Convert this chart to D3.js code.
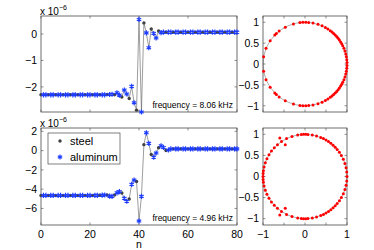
<!doctype html>
<html lang="en">
  <head>
    <meta charset="UTF-8" />
    <title>Layer displacement and eigenvalues</title>
    <script src="https://d3js.org/d3.v7.min.js"></script>
    <style>
      body {
        margin: 0;
        padding: 0;
        background: #fff;
      }
      svg {
        display: block;
        font-family: 'Liberation Sans', Arial, sans-serif;
      }
      .tick-label {
        font-size: 10.5px;
        fill: #000;
      }
      .freq-label {
        font-size: 8.5px;
        fill: #000;
      }
      .legend-label {
        font-size: 11px;
        fill: #000;
      }
    </style>
  </head>
  <body>
    <div id="chart"></div>

    <script>
      // layer index axis
      const xTicks = [0, 20, 40, 60, 80]
      const layerPattern = ['steel', 'aluminum', 'aluminum']

      // displacement (x 10^-6) per layer, f = 8.06 kHz
      const valuesTop = [
        -2.3, -2.3, -2.3, -2.3, -2.3, -2.3, -2.3, -2.3, -2.3, -2.3,
        -2.3, -2.3, -2.3, -2.3, -2.3, -2.3, -2.3, -2.3, -2.3, -2.3,
        -2.3, -2.3, -2.3, -2.3, -2.3, -2.3, -2.3, -2.29, -2.29, -2.28,
        -2.3, -2.22, -2.31, -2.38, -2.12, -2.27, -2.44, -1.98, -2.6, -2.88,
        0.55, -2.95, 0.42, 0.04, -0.52, 0.19, 0.02, -0.15, 0.11, 0.05,
        0.07, 0.07, 0.07, 0.07, 0.07, 0.07, 0.07, 0.07, 0.07, 0.07,
        0.07, 0.07, 0.07, 0.07, 0.07, 0.07, 0.07, 0.07, 0.07, 0.07,
        0.07, 0.07, 0.07, 0.07, 0.07, 0.07, 0.07, 0.07, 0.07, 0.07, 0.07,
      ]

      // displacement (x 10^-6) per layer, f = 4.96 kHz
      const valuesBottom = [
        -4.65, -4.65, -4.65, -4.65, -4.65, -4.65, -4.65, -4.65, -4.65, -4.65,
        -4.65, -4.65, -4.65, -4.65, -4.65, -4.65, -4.65, -4.65, -4.65, -4.65,
        -4.65, -4.65, -4.64, -4.64, -4.63, -4.62, -4.6, -4.6, -4.72, -4.75,
        -4.6, -4.38, -4.25, -4.4, -4.95, -5.25, -5.02, -3.5, -3.05, -3.2,
        -7.3, -4.75, 0.62, 1.85, 0.75, -0.4, -0.68, -0.25, 0.3, 0.5,
        0.32, 0.02, 0.06, 0.18, 0.18, 0.18, 0.18, 0.18, 0.18, 0.18,
        0.18, 0.18, 0.18, 0.18, 0.18, 0.18, 0.18, 0.18, 0.18, 0.18,
        0.18, 0.18, 0.18, 0.18, 0.18, 0.18, 0.18, 0.18, 0.18, 0.18, 0.18,
      ]

      const yTicksTop = [-2, -1, 0]
      const yTicksBottom = [-6, -4, -2, 0, 2]
      const freqTop = 'frequency = 8.06 kHz'
      const freqBottom = 'frequency = 4.96 kHz'

      // eigenvalue angles (degrees) on the unit circle
      const anglesTop = [
        2, 6, 10, 14, 18, 22, 26, 29, 32, 35, 38, 41, 44, 47, 50, 53, 57, 61, 66, 72, 79, 85, 89,
        93, 97, 106, 118, 128, 133, 136, 146, 158, 170,
        -2, -6, -10, -14, -18, -22, -26, -29, -32, -35, -38, -41, -44, -47, -50, -53, -57, -61,
        -66, -72, -79, -85, -89, -93, -97, -106, -118, -128, -133, -136, -146, -158, -170,
      ]
      const anglesBottom = [
        0, 6, 12, 18, 24, 30, 35, 40, 44, 48, 52, 56, 60, 64, 68, 74, 80, 86, 89, 92, 95, 100,
        108, 116, 124, 131, 137, 143, 149, 155, 161, 167, 172, 176, 180,
        -6, -12, -18, -24, -30, -35, -40, -44, -48, -52, -56, -60, -64, -68, -74, -80, -86, -89,
        -92, -95, -100, -108, -116, -124, -131, -137, -143, -149, -155, -161, -167, -172, -176,
      ]
      // the few eigenvalues off the circle (re, im)
      const offCircleBottom = [
        [-0.6, 0.91],
        [-0.47, 0.75],
        [-0.6, -0.91],
        [-0.47, -0.75],
      ]
      const circleTicks = [-1, -0.5, 0, 0.5, 1]

      const W = 374
      const H = 250
      const svg = d3.select('#chart').append('svg').attr('width', W).attr('height', H)

      const frameColor = '#4a4a4a'
      const steelColor = '#404040'
      const aluColor = '#1f3dff'

      const left = { x0: 41, x1: 237 }
      const right = { x0: 263, x1: 347 }
      const rows = [
        { y0: 16, y1: 112 },
        { y0: 128, y1: 225 },
      ]

      function frame(g, x0, x1, y0, y1) {
        g.append('rect')
          .attr('x', x0)
          .attr('y', y0)
          .attr('width', x1 - x0)
          .attr('height', y1 - y0)
          .attr('fill', 'none')
          .attr('stroke', frameColor)
          .attr('stroke-width', 0.8)
      }

      function ticks(g, x, y, xt, yt, xLabels, yLabelFmt) {
        const [ya, yb] = y.range()
        const [xa, xb] = x.range()
        const tl = 2.5
        xt.forEach((t) => {
          g.append('line')
            .attr('x1', x(t)).attr('x2', x(t))
            .attr('y1', ya).attr('y2', ya - tl)
            .attr('stroke', frameColor).attr('stroke-width', 0.6)
          g.append('line')
            .attr('x1', x(t)).attr('x2', x(t))
            .attr('y1', yb).attr('y2', yb + tl)
            .attr('stroke', frameColor).attr('stroke-width', 0.6)
        })
        yt.forEach((t) => {
          g.append('line')
            .attr('x1', xa).attr('x2', xa + tl)
            .attr('y1', y(t)).attr('y2', y(t))
            .attr('stroke', frameColor).attr('stroke-width', 0.6)
          g.append('line')
            .attr('x1', xb).attr('x2', xb - tl)
            .attr('y1', y(t)).attr('y2', y(t))
            .attr('stroke', frameColor).attr('stroke-width', 0.6)
          g.append('text')
            .attr('class', 'tick-label')
            .attr('x', xa - 4)
            .attr('y', y(t))
            .attr('dy', '0.36em')
            .attr('text-anchor', 'end')
            .text(yLabelFmt(t))
        })
        if (xLabels) {
          xLabels.forEach((t) => {
            g.append('text')
              .attr('class', 'tick-label')
              .attr('x', x(t))
              .attr('y', ya + 12.5)
              .attr('text-anchor', 'middle')
              .text(yLabelFmt(t))
          })
        }
      }

      const fmt = (t) => String(t).replace('-', '\u2212')

      function seriesPanel(values, yDomain, yTicks, row, freq, withAxisLabels) {
        const g = svg.append('g')
        const x = d3.scaleLinear().domain([0, 80]).range([left.x0, left.x1])
        const y = d3.scaleLinear().domain(yDomain).range([row.y1, row.y0])

        frame(g, left.x0, left.x1, row.y0, row.y1)
        ticks(g, x, y, xTicks, yTicks, withAxisLabels ? xTicks : null, fmt)

        // exponent label
        const ex = g.append('text').attr('x', left.x0 - 1).attr('y', row.y0 - 1.5).attr('font-size', '10px')
        ex.append('tspan').text('x 10')
        ex.append('tspan').attr('font-size', '7px').attr('dy', '-4.5').text('\u22126')

        const pts = values.map((v, i) => ({ n: i, v, kind: layerPattern[i % 3] }))

        g.append('path')
          .datum(pts)
          .attr('fill', 'none')
          .attr('stroke', '#5a5a5a')
          .attr('stroke-width', 0.6)
          .attr('d', d3.line().x((d) => x(d.n)).y((d) => y(d.v)))

        g.selectAll('.steel')
          .data(pts.filter((d) => d.kind === 'steel'))
          .join('circle')
          .attr('cx', (d) => x(d.n))
          .attr('cy', (d) => y(d.v))
          .attr('r', 1.7)
          .attr('fill', steelColor)

        g.selectAll('.alu')
          .data(pts.filter((d) => d.kind === 'aluminum'))
          .join('path')
          .attr('transform', (d) => `translate(${x(d.n)},${y(d.v)})`)
          .attr('d', d3.symbol(d3.symbolAsterisk, 18)())
          .attr('fill', 'none')
          .attr('stroke', aluColor)
          .attr('stroke-width', 1.2)

        g.append('text')
          .attr('class', 'freq-label')
          .attr('x', left.x1 - 4)
          .attr('y', row.y1 - 4)
          .attr('text-anchor', 'end')
          .text(freq)

        if (withAxisLabels) {
          g.append('text')
            .attr('class', 'tick-label')
            .attr('x', (left.x0 + left.x1) / 2)
            .attr('y', row.y1 + 23)
            .attr('text-anchor', 'middle')
            .text('n')
        }
        return g
      }

      function circlePanel(angles, extra, row, withAxisLabels) {
        const g = svg.append('g')
        const x = d3.scaleLinear().domain([-1, 1]).range([right.x0, right.x1])
        const y = d3.scaleLinear().domain([-1.15, 1.15]).range([row.y1, row.y0])

        g.append('ellipse')
          .attr('cx', x(0))
          .attr('cy', y(0))
          .attr('rx', x(1) - x(0))
          .attr('ry', y(0) - y(1))
          .attr('fill', 'none')
          .attr('stroke', '#8a8a8a')
          .attr('stroke-width', 0.7)

        frame(g, right.x0, right.x1, row.y0, row.y1)
        ticks(g, x, y, circleTicks, circleTicks, withAxisLabels ? [-1, 0, 1] : null, fmt)

        const pts = angles
          .map((a) => [Math.cos((a * Math.PI) / 180), Math.sin((a * Math.PI) / 180)])
          .concat(extra)

        g.selectAll('.eig')
          .data(pts)
          .join('circle')
          .attr('cx', (d) => x(d[0]))
          .attr('cy', (d) => y(d[1]))
          .attr('r', 1.5)
          .attr('fill', '#ff0000')
      }

      seriesPanel(valuesTop, [-2.95, 0.68], yTicksTop, rows[0], freqTop, false)
      const gb = seriesPanel(valuesBottom, [-7.72, 2.35], yTicksBottom, rows[1], freqBottom, true)
      circlePanel(anglesTop, [], rows[0], false)
      circlePanel(anglesBottom, offCircleBottom, rows[1], true)

      // legend
      const legend = gb.append('g').attr('transform', 'translate(48,133)')
      legend
        .append('rect')
        .attr('width', 72)
        .attr('height', 31)
        .attr('fill', '#fff')
        .attr('stroke', frameColor)
        .attr('stroke-width', 0.7)
      legend.append('circle').attr('cx', 12).attr('cy', 8).attr('r', 1.7).attr('fill', steelColor)
      legend
        .append('path')
        .attr('transform', 'translate(12,24)')
        .attr('d', d3.symbol(d3.symbolAsterisk, 18)())
        .attr('fill', 'none')
        .attr('stroke', aluColor)
        .attr('stroke-width', 1.2)
      legend.append('text').attr('class', 'legend-label').attr('x', 22).attr('y', 8).attr('dy', '0.35em').text('steel')
      legend.append('text').attr('class', 'legend-label').attr('x', 22).attr('y', 24).attr('dy', '0.35em').text('aluminum')
    </script>
  </body>
</html>
